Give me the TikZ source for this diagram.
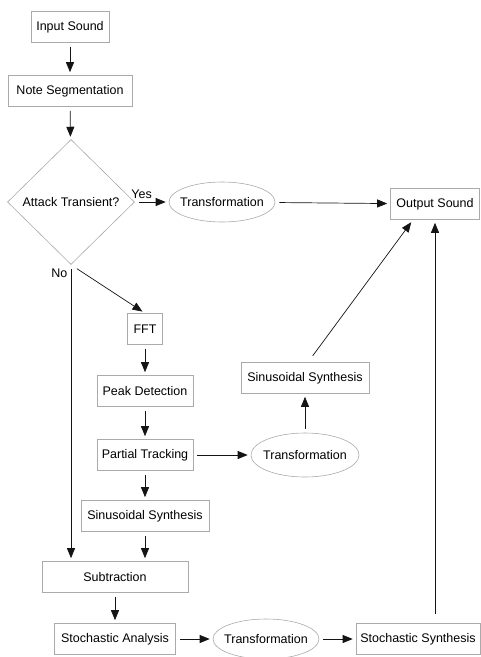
\documentclass[tikz,border=0pt]{standalone}
\usepackage{fontspec}
\setmainfont{Liberation Sans}
\usepackage{tikz}
\usetikzlibrary{positioning, arrows.meta, shapes.geometric}
\definecolor{frameColor}{RGB}{170, 170, 170}
\definecolor{lineColor}{RGB}{20, 20, 20}
\tikzset{
    sms_box/.style={
        rectangle,
        draw=frameColor,
        line width=0.6pt,
        minimum height=31pt,
        inner sep=0pt,
        font=\fontsize{12.5}{15}\selectfont
    },
    sms_test/.style={
        diamond,
        draw=frameColor,
        line width=0.6pt,
        minimum width=127pt,
        minimum height=125pt,
        inner sep=0pt,
        font=\fontsize{12.5}{15}\selectfont
    },
    sms_trans/.style={
        ellipse,
        draw=frameColor,
        line width=0.6pt,
        inner xsep=-8pt,
        inner ysep=0pt,
        minimum width=106pt,
        minimum height=40pt,
        font=\fontsize{12.5}{15}\selectfont
    },
    sms_edge/.style={
        -{Triangle[length=10pt, width=8pt]},
        draw=lineColor,
        line width=0.7pt,
        shorten <=4pt,
        shorten >=3pt,
        font=\fontsize{12.5}{15}\selectfont
    }
}
\begin{document}
\begin{tikzpicture}[x=1pt, y=-1pt, node distance=62pt]
    \useasboundingbox (0,0) rectangle (481,657);

    % analysis chain
    \node[sms_box, minimum width=78pt] (in) at (70,27) {Input Sound};
    \node[sms_box, minimum width=124pt, below of=in, node distance=64pt] (seg) {Note Segmentation};
    \node[sms_test] (att) at (71,202) {Attack Transient?};
    \node[sms_trans, right of=att, node distance=151pt] (tr1) {Transformation};
    \node[sms_box, minimum width=89pt] (out) at (435,204) {Output Sound};
    \node[sms_box, minimum width=35pt] (fft) at (145,329) {FFT};
    \node[sms_box, minimum width=96pt, below of=fft] (peak) {Peak Detection};
    \node[sms_box, minimum width=96pt, below of=peak, node distance=64pt] (track) {Partial Tracking};
    \node[sms_box, minimum width=128pt, below of=track, node distance=61pt] (sin) {Sinusoidal Synthesis};
    \node[sms_box, minimum width=146pt] (sub) at (115,577) {Subtraction};
    \node[sms_box, minimum width=121pt, below of=sub] (sana) {Stochastic Analysis};

    % resynthesis
    \node[sms_trans, right of=sana, node distance=151pt] (tr3) {Transformation};
    \node[sms_box, minimum width=124pt, right of=tr3, node distance=152pt] (ssyn) {Stochastic Synthesis};
    \node[sms_trans, minimum width=108pt, minimum height=44pt] (tr2) at (305,455) {Transformation};
    \node[sms_box, minimum width=128pt, above of=tr2, node distance=77pt] (sinr) {Sinusoidal Synthesis};

    \draw[sms_edge] (in) -- (seg);
    \draw[sms_edge] (seg) -- (att);
    \draw[sms_edge] (att) -- node[above, pos=0.2] {Yes} (tr1);
    \draw[sms_edge] (tr1) -- (out);
    \draw[sms_edge] (att.south) -- node[left, pos=0.03] {No} (att.south |- sub.north);
    \draw[sms_edge, shorten <=7pt] (att.south) -- (fft.north);
    \draw[sms_edge] (fft) -- (peak);
    \draw[sms_edge] (peak) -- (track);
    \draw[sms_edge] (track) -- (sin);
    \draw[sms_edge] (track) -- (tr2);
    \draw[sms_edge] (tr2) -- (sinr);
    \draw[sms_edge, shorten <=8pt] ([xshift=3pt]sinr.north) -- ([xshift=-22pt]out.south);
    \draw[sms_edge] (sin) -- (sin |- sub.north);
    \draw[sms_edge] (sub) -- (sana);
    \draw[sms_edge] (sana) -- (tr3);
    \draw[sms_edge] (tr3) -- (ssyn);
    \draw[sms_edge, shorten <=9pt] (out.south |- ssyn.north) -- (out.south);
\end{tikzpicture}
\end{document}
